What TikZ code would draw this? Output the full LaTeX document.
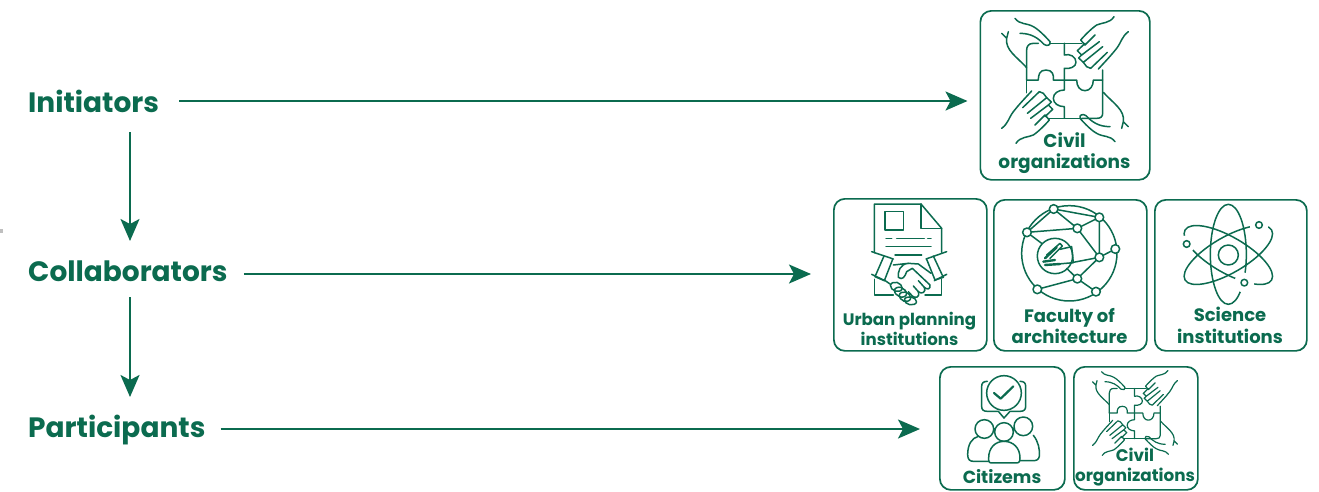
\documentclass[tikz,border=0pt]{standalone}
\usepackage{fontspec}
\setmainfont{Poppins}
\usetikzlibrary{arrows.meta}
\definecolor{gr}{HTML}{0B6B4F}
\tikzset{
 x=1pt,y=-1pt,
 arr/.style={draw=gr,line width=2pt,-{Stealth[length=22pt,width=19pt,inset=5pt]}},
 box/.style={draw=gr,line width=1.7pt,rounded corners=11pt,inner sep=0pt,anchor=north west},
 head/.style={text=gr,font=\fontsize{28}{28}\selectfont\bfseries,inner sep=0pt,anchor=base west},
 captxt/.style 2 args={text=gr,font=\fontsize{#1}{#2}\selectfont\bfseries,inner sep=0pt,align=center},
 ic/.style={draw=gr,line width=1.5pt,line cap=round,line join=round},
}
\newcommand{\handsdraw}{%
  \draw[ic] (135,55) .. controls (150,75) and (170,68) .. (190,80) .. controls (205,88) and (225,108) .. (240,125) .. controls (243,135) and (232,140) .. (222,133) .. controls (205,115) and (185,100) .. (150,100);
  \draw[ic] (95,100) -- (110,115) -- (115,95) (110,115) .. controls (105,150) and (140,170) .. (170,203);
  \draw[ic] (432,50) .. controls (420,70) and (395,68) .. (380,75) .. controls (365,85) and (345,105) .. (332,120) -- (345,135) -- (375,105);
  \draw[ic] (345,130) -- (322,152) -- (335,165) -- (388,125);
  \draw[ic] (335,165) -- (326,174) -- (340,187) -- (398,140);
  \draw[ic] (340,187) -- (350,200) -- (362,205) -- (412,157);
  \draw[ic] (475,95) .. controls (455,110) and (455,125) .. (440,145) .. controls (420,170) and (410,180) .. (385,207);
}
\newcommand{\puzzleicon}[3]{%
 \begin{scope}[shift={(#1)},scale=#2,ic/.append style={line width=#3}]
 \begin{scope}[shift={(-285,-240)}]
  \draw[ic] (240,130) -- (335,130);
  \draw[ic] (205,130) -- (190,130) .. controls (175,130) and (170,140) .. (170,150) -- (170,240);
  \draw[ic] (398,210) -- (398,340) .. controls (398,350) and (392,355) .. (380,355) -- (335,355);
  \draw[ic] (235,355) -- (335,355);
  \draw[ic] (170,240) -- (205,240) .. controls (205,225) and (208,210) .. (228,210) .. controls (248,210) and (252,225) .. (250,240) -- (320,240) .. controls (320,260) and (330,272) .. (345,272) .. controls (360,272) and (370,258) .. (370,240) -- (398,240);
  \draw[ic] (283,130) -- (283,165) .. controls (300,160) and (318,170) .. (318,187) .. controls (318,200) and (300,208) .. (283,205) -- (283,270) .. controls (265,270) and (250,280) .. (250,295) .. controls (250,310) and (265,320) .. (283,320) -- (283,355);
  \draw[ic] (170,240) -- (170,278);
  \handsdraw
  \begin{scope}[rotate around={180:(285,240)}]
   \handsdraw
  \end{scope}
 \end{scope}
 \end{scope}
}
\begin{document}
\begin{tikzpicture}
\useasboundingbox (0,0) rectangle (1319,491);
\fill[white] (0,0) rectangle (1319,491);
\fill[black!25] (0,229) rectangle (3,233);
% labels
\node[head] (init) at (28,112) {Initiators};
\node[head] (coll) at (28,281) {Collaborators};
\node[head] (part) at (28,437) {Participants};
% boxes
\node[box,minimum width=169.5pt,minimum height=169pt] (b1) at (979.5,10) {};
\node[box,minimum width=153pt,minimum height=152pt] (b2) at (833,198) {};
\node[box,minimum width=153pt,minimum height=151pt] (b3) at (993,199) {};
\node[box,minimum width=152pt,minimum height=151pt] (b4) at (1154,199) {};
\node[box,minimum width=125pt,minimum height=123pt] (b5) at (939,366) {};
\node[box,minimum width=124pt,minimum height=123pt] (b6) at (1073,366) {};
% arrows
\draw[arr] ([xshift=20pt]init.east |- 0,101) -- ([xshift=-12pt]b1.west |- 0,101);
\draw[arr] ([xshift=16pt]coll.east |- 0,274) -- ([xshift=-22pt]b2.west |- 0,274);
\draw[arr] ([xshift=15pt]part.east |- 0,429) -- ([xshift=-19pt]b5.west |- 0,429);
\draw[arr] (init.south -| 130,0) ++(0,20) -- (130,241);
\draw[arr] (130,297) -- (130,397);
% captions
\node[captxt={18.5}{21}] (t1) at (1064.5,153) {Civil\\organizations};
\node[captxt={16.6}{20}] (t2) at (909.5,329) {Urban planning\\institutions};
\node[captxt={18}{21.5}] (t3) at (1069.5,326) {Faculty of\\architecture};
\node[captxt={18}{21.5}] (t4) at (1230,325.5) {Science\\institutions};
\node[captxt={17.5}{20}] (t5) at (1002,477) {Citizems};
\node[captxt={16.8}{20}] (t6) at (1135,467.5) {Civil\\organizations};
% puzzles
\puzzleicon{1065,80}{.3333}{1.5pt}
\puzzleicon{1135,413}{.2233}{1.2pt}
% contract
\begin{scope}[shift={(825,190)},scale=.3333]
 \draw[ic] (148,188) -- (148,42) -- (288,42) -- (350,115) -- (350,187);
 \draw[ic] (288,42) -- (288,115) -- (350,115);
 \draw[ic] (180,65) rectangle (235,120);
 \draw[ic] (183,146) -- (200,146) (215,146) -- (298,146) (308,146) -- (318,146);
 \draw[ic] (183,170) -- (318,170) (210,195) -- (290,195);
 \draw[ic] (140,185) -- (205,207) (365,185) -- (303,207);
 \draw[ic] (177,198) -- (150,260) -- (178,272) -- (203,208);
 \draw[ic] (140,253) -- (180,272) (365,253) -- (328,272);
 \draw[ic] (325,198) -- (355,262) -- (330,270) -- (305,208);
 \draw[ic] (148,268) -- (148,315) -- (205,315) (350,268) -- (350,315) -- (300,315);
 \draw[ic] (205,225) -- (250,220) .. controls (225,222) and (218,245) .. (220,262) .. controls (232,272) and (240,260) .. (245,245) -- (262,235) -- (315,285) .. controls (318,298) and (305,300) .. (298,292) -- (280,272);
 \draw[ic] (250,220) -- (280,222) -- (318,250);
 \draw[ic] (298,292) .. controls (305,305) and (290,315) .. (280,305) -- (265,288);
 \draw[ic] (280,305) .. controls (285,325) and (270,325) .. (262,318) -- (250,305);
 \draw[ic] (178,270) -- (195,282);
 \foreach \a/\b/\c/\d in {203/278/225/303,215/293/238/320,230/307/250/333,245/322/268/343}
  \draw[ic] (\a,\b) .. controls +(-18,8) and +(-18,8) .. (\c,\d) .. controls +(18,-8) and +(18,-8) .. (\a,\b);
\end{scope}
% network
\begin{scope}[shift={(825,190)},scale=.3333]
 \draw[ic] (733,190) circle (143);
 \draw[ic] (690,198) circle (53);
 \draw[ic] (686,57) -- (606,127) (686,57) -- (757,115) (686,57) -- (823,82) (823,82) -- (757,115) (606,127) -- (757,115)
  (823,82) -- (823,202) (757,115) -- (823,202) (823,202) -- (871,177) (823,202) -- (740,218)
  (823,202) -- (757,266) (757,266) -- (637,298) (757,266) -- (813,305) (757,266) -- (725,235)
  (606,127) -- (650,160);
 \foreach \a/\b in {686/57,823/82,606/127,757/115,871/177,823/202,757/266,637/298,813/305}
  \filldraw[ic,fill=white] (\a,\b) circle (13);
 \draw[ic] (665,195) -- (705,160) -- (712,168) -- (675,205);
 \draw[ic] (705,178) -- (740,170) -- (745,218) -- (700,222);
 \draw[ic,line width=2.4pt] (655,215) -- (690,210) (660,225) -- (705,222) (660,205) -- (695,172);
\end{scope}
% atom
\begin{scope}[shift={(1145,190)},scale=.3333]
 \draw[ic] (250,195) circle (30);
 \draw[ic] (250,193) ellipse [x radius=54,y radius=150];
 \draw[ic,rotate around={60:(250,195)}] (250,195) ellipse [x radius=54,y radius=150];
 \draw[ic,rotate around={-60:(250,195)}] (250,195) ellipse [x radius=54,y radius=150];
 \fill[white] (298,278) circle (30) (342,105) circle (28) (125,162) circle (26);
 \draw[ic] (342,105) circle (10) (298,278) circle (10) (125,162) circle (10);
\end{scope}
% citizens
\begin{scope}[shift={(930,358)},scale=.3333]
 \draw[ic] (172,70) .. controls (160,70) and (155,75) .. (155,85) -- (155,145) .. controls (155,155) and (160,160) .. (172,160) -- (205,160) -- (222,180) -- (240,160) -- (270,160) .. controls (282,160) and (287,155) .. (287,145) -- (287,85) .. controls (287,75) and (282,70) .. (270,70);
 \filldraw[ic,fill=white] (222,105) circle (52);
 \draw[ic,line width=2.2pt] (192,105) -- (212,122) -- (250,85);
 \draw[ic] (163,213) circle (28) (280,205) circle (28) (222,222) circle (28);
 \draw[ic] (186,315) .. controls (176,315) and (176,310) .. (176,300) .. controls (176,270) and (195,250) .. (222,250) .. controls (250,250) and (270,270) .. (270,300) .. controls (270,310) and (268,315) .. (258,315) -- cycle;
 \draw[ic] (145,235) .. controls (125,240) and (113,260) .. (113,290) .. controls (113,305) and (120,310) .. (130,310) -- (176,310);
 \draw[ic] (310,232) .. controls (325,250) and (330,275) .. (328,295) .. controls (326,305) and (320,308) .. (310,308) -- (270,308);
\end{scope}
\end{tikzpicture}
\end{document}
